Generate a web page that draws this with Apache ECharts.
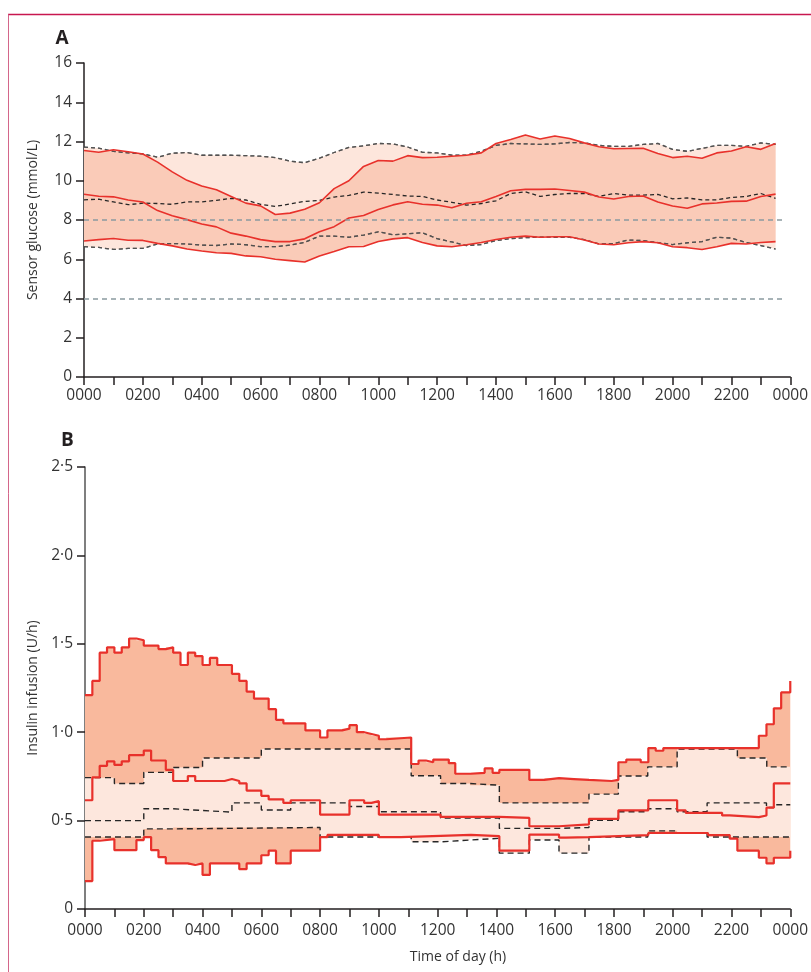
<!DOCTYPE html>
<html>
<head>
<meta charset="utf-8">
<script src="https://cdn.jsdelivr.net/npm/echarts@6/dist/echarts.min.js"></script>
<style>html,body{margin:0;padding:0;background:#fff}#chart{width:811px;height:972px}</style>
</head>
<body>
<div id="chart"></div>
<script>
// ---------- Panel A: sensor glucose (mmol/L), every 30 min ----------
const hoursA = [0,0.5,1,1.5,2,2.5,3,3.5,4,4.5,5,5.5,6,6.5,7,7.5,8,8.5,9,9.5,10,10.5,11,11.5,12,12.5,13,13.5,14,14.5,15,15.5,16,16.5,17,17.5,18,18.5,19,19.5,20,20.5,21,21.5,22,22.5,23,23.5];
// control (black dashed) upper quartile, median, lower quartile
const glucoseCtrlUpper = [11.71,11.66,11.5,11.42,11.37,11.2,11.4,11.44,11.3,11.3,11.3,11.28,11.25,11.18,11.0,10.92,11.15,11.44,11.7,11.78,11.9,11.88,11.72,11.45,11.42,11.3,11.3,11.5,11.8,11.9,11.88,11.85,11.88,11.95,11.93,11.8,11.75,11.75,11.85,11.9,11.6,11.5,11.65,11.8,11.8,11.75,11.93,11.85];
const glucoseCtrlMedian = [9.03,9.06,8.92,8.78,8.86,8.84,8.8,8.92,8.92,9.0,9.1,9.02,8.8,8.69,8.82,8.95,9.0,9.17,9.25,9.42,9.37,9.3,9.22,9.2,9.02,8.9,8.76,8.84,8.98,9.35,9.44,9.2,9.3,9.35,9.35,9.2,9.35,9.27,9.27,9.3,9.08,9.12,9.03,9.03,9.15,9.2,9.35,9.1];
const glucoseCtrlLower = [6.64,6.6,6.5,6.55,6.55,6.78,6.8,6.78,6.72,6.7,6.78,6.74,6.64,6.64,6.72,6.86,7.18,7.18,7.12,7.23,7.4,7.25,7.3,7.35,7.05,6.88,6.7,6.75,6.95,7.05,7.1,7.13,7.12,7.12,7.0,6.78,6.8,6.98,6.95,6.85,6.75,6.84,6.9,7.12,7.08,6.85,6.7,6.52];
// closed loop (red) upper quartile, median, lower quartile
const glucoseLoopUpper = [11.54,11.45,11.58,11.48,11.36,10.95,10.45,10.02,9.73,9.54,9.2,8.86,8.72,8.28,8.35,8.55,8.88,9.6,10.0,10.73,11.03,11.0,11.28,11.18,11.2,11.25,11.3,11.42,11.9,12.1,12.33,12.13,12.28,12.15,11.93,11.73,11.63,11.64,11.65,11.39,11.18,11.25,11.15,11.42,11.52,11.73,11.6,11.9];
const glucoseLoopMedian = [9.31,9.21,9.18,9.02,8.92,8.48,8.22,8.02,7.8,7.65,7.33,7.18,7.0,6.9,6.9,7.04,7.4,7.66,8.1,8.23,8.53,8.77,8.93,8.8,8.76,8.62,8.85,8.93,9.2,9.49,9.56,9.56,9.58,9.5,9.42,9.17,9.07,9.2,9.22,8.92,8.71,8.6,8.82,8.87,8.95,8.96,9.2,9.32];
const glucoseLoopLower = [6.93,7.0,7.06,6.97,6.96,6.81,6.68,6.52,6.42,6.33,6.3,6.17,6.13,6.0,5.93,5.86,6.17,6.39,6.64,6.65,6.9,7.04,7.1,6.85,6.68,6.64,6.74,6.85,7.01,7.12,7.18,7.12,7.15,7.15,6.98,6.78,6.74,6.84,6.9,6.84,6.64,6.59,6.5,6.64,6.81,6.78,6.85,6.9];
const glucoseRefLines = [8, 4];
const glucoseRefEnd = 23.75;

// ---------- Panel B: insulin infusion (U/h), step change points [hour, value] ----------
const insulinLoopUpper = [[0,1.21],[0.25,1.29],[0.5,1.45],[0.75,1.48],[1,1.45],[1.25,1.48],[1.5,1.53],[1.75,1.52],[2,1.49],[2.5,1.47],[2.75,1.48],[3,1.45],[3.25,1.38],[3.5,1.45],[3.75,1.43],[4,1.38],[4.25,1.42],[4.5,1.38],[5,1.33],[5.25,1.29],[5.5,1.23],[5.75,1.19],[6.25,1.13],[6.5,1.07],[6.75,1.05],[7.5,1.01],[8,0.97],[8.25,1.01],[8.75,1.02],[9,1.04],[9.25,1.0],[9.5,0.99],[9.75,0.98],[10,0.96],[10.25,0.97],[11.1,0.82],[11.35,0.84],[11.6,0.83],[11.85,0.845],[12.38,0.825],[12.6,0.765],[13.13,0.77],[13.6,0.795],[13.87,0.77],[14.1,0.787],[15.12,0.73],[15.63,0.74],[16.13,0.735],[16.64,0.73],[17.15,0.724],[17.92,0.73],[18.15,0.83],[18.42,0.845],[18.91,0.83],[19.17,0.91],[19.42,0.895],[19.68,0.91],[22.93,0.98],[23.19,1.045],[23.44,1.135],[23.69,1.225],[24,1.29]];
const insulinLoopMedian = [[0,0.615],[0.25,0.745],[0.5,0.81],[0.75,0.835],[1,0.815],[1.25,0.835],[1.5,0.87],[2,0.896],[2.25,0.84],[2.75,0.787],[3,0.724],[3.5,0.752],[3.75,0.724],[4.75,0.735],[5,0.724],[5.25,0.71],[5.5,0.67],[6,0.64],[6.25,0.62],[6.75,0.6],[7,0.615],[8,0.534],[9,0.615],[9.5,0.6],[9.75,0.61],[10,0.534],[12.1,0.521],[14.1,0.515],[15.12,0.468],[16.13,0.479],[17.15,0.51],[18.15,0.558],[19.17,0.615],[20.15,0.558],[20.44,0.544],[21.68,0.529],[21.94,0.52],[22.93,0.529],[23.19,0.573],[23.44,0.71],[24,0.71]];
const insulinLoopLower = [[0,0.158],[0.25,0.386],[0.5,0.395],[1,0.333],[1.75,0.39],[2,0.407],[2.25,0.333],[2.5,0.293],[2.75,0.258],[3.5,0.249],[3.75,0.258],[4,0.193],[4.25,0.258],[5.25,0.225],[5.5,0.258],[6,0.304],[6.25,0.33],[6.5,0.258],[7,0.33],[8,0.407],[8.25,0.419],[10,0.407],[10.75,0.414],[12.1,0.419],[13.13,0.412],[14.1,0.33],[15.12,0.421],[16.13,0.404],[16.36,0.407],[17.15,0.418],[19.17,0.43],[21.2,0.418],[21.94,0.398],[22.2,0.33],[22.93,0.29],[23.19,0.258],[23.44,0.29],[24,0.33]];
const insulinCtrlUpper = [[0,0.743],[1,0.71],[2,0.773],[3,0.8],[4,0.854],[6,0.905],[11.1,0.754],[12.1,0.71],[13.1,0.7],[14.1,0.6],[17.15,0.65],[18.15,0.752],[19.15,0.804],[20.15,0.905],[22.2,0.854],[23.2,0.804],[24,0.804]];
const insulinCtrlMedian = [[0,0.5],[2,0.567],[3,0.557],[4,0.548],[5,0.6],[6,0.56],[7,0.6],[9,0.58],[10,0.55],[12.1,0.515],[14.1,0.456],[16.13,0.461],[17.15,0.502],[18.15,0.55],[19.15,0.567],[20.15,0.55],[21.17,0.6],[23.19,0.574],[23.44,0.59],[24,0.59]];
const insulinCtrlLower = [[0,0.407],[2,0.453],[3,0.461],[8,0.407],[11.1,0.38],[12.1,0.39],[13.1,0.4],[14.1,0.316],[15.12,0.39],[16.13,0.316],[17.15,0.407],[19.15,0.442],[20.15,0.43],[21.17,0.407],[24,0.407]];

// ---------- tick labels ----------
const xTickLabels = ['0000','0200','0400','0600','0800','1000','1200','1400','1600','1800','2000','2200','0000'];
const yTickLabelsA = ['0','2','4','6','8','10','12','14','16'];
const yTickLabelsB = ['0','0\u00b75','1\u00b70','1\u00b75','2\u00b70','2\u00b75'];

const FONT = '"Open Sans", "Noto Sans", sans-serif';
const RED = '#e8312b';
const DASH = '#262626';
const AXIS = '#231f20';

const zip = (xs, ys) => xs.map((x, i) => [x, ys[i]]);
function stepPath(list) {
  const out = [];
  for (let i = 0; i < list.length - 1; i++) {
    out.push([list[i][0], list[i][1]]);
    out.push([list[i + 1][0], list[i][1]]);
  }
  return out;
}
function band(g, upperPts, lowerPts, color) {
  return {
    type: 'custom', xAxisIndex: g, yAxisIndex: g, silent: true, data: [0],
    renderItem: (params, api) => {
      const pts = upperPts.map(p => api.coord(p)).concat(lowerPts.slice().reverse().map(p => api.coord(p)));
      return { type: 'polygon', shape: { points: pts }, style: { fill: color } };
    }
  };
}
function line(g, data, color, width, dash, step) {
  return {
    type: 'line', xAxisIndex: g, yAxisIndex: g, data: data, symbol: 'none', silent: true,
    step: step || false, smooth: false,
    lineStyle: { color: color, width: width, type: dash ? dash : 'solid' }
  };
}
function xAxisOf(g, margin) {
  return {
    gridIndex: g, type: 'value', min: 0, max: 24, interval: 1,
    axisLine: { show: true, onZero: false, lineStyle: { color: AXIS, width: 1.5 } },
    axisTick: { show: true, length: 8, lineStyle: { color: AXIS, width: 1.5 } },
    axisLabel: { margin: margin, color: '#333', fontFamily: FONT, fontSize: 15.5,
      formatter: v => (Math.round(v) % 2 === 0 ? xTickLabels[Math.round(v) / 2] : '') },
    splitLine: { show: false }
  };
}

const option = {
  animation: false,
  backgroundColor: '#fff',
  grid: [
    { left: 84, right: 19, top: 63, bottom: 595 },
    { left: 85, right: 20, top: 467, bottom: 63 }
  ],
  xAxis: [xAxisOf(0, 11), xAxisOf(1, 14)],
  yAxis: [
    { gridIndex: 0, type: 'value', min: 0, max: 16, interval: 2,
      name: 'Sensor glucose (mmol/L)', nameLocation: 'middle', nameGap: 44,
      nameTextStyle: { color: '#333', fontFamily: FONT, fontSize: 14 },
      axisLine: { show: true, lineStyle: { color: AXIS, width: 1.5 } },
      axisTick: { show: true, length: 8, lineStyle: { color: AXIS, width: 1.5 } },
      axisLabel: { margin: 12, color: '#333', fontFamily: FONT, fontSize: 15.5,
        formatter: v => yTickLabelsA[Math.round(v / 2)] },
      splitLine: { show: false } },
    { gridIndex: 1, type: 'value', min: 0, max: 2.5, interval: 0.5,
      name: 'Insulin infusion (U/h)', nameLocation: 'middle', nameGap: 45,
      nameTextStyle: { color: '#333', fontFamily: FONT, fontSize: 14 },
      axisLine: { show: true, lineStyle: { color: '#555', width: 1.5 } },
      axisTick: { show: true, length: 8, lineStyle: { color: AXIS, width: 1.5 } },
      axisLabel: { margin: 12, color: '#333', fontFamily: FONT, fontSize: 15.5,
        formatter: v => yTickLabelsB[Math.round(v / 0.5)] },
      splitLine: { show: false } }
  ],
  graphic: [
    { type: 'line', shape: { x1: 8, y1: 14.5, x2: 811, y2: 14.5 }, style: { stroke: '#c8174f', lineWidth: 1.5 } },
    { type: 'line', shape: { x1: 8.5, y1: 14.5, x2: 8.5, y2: 972 }, style: { stroke: '#d4668a', lineWidth: 1 } },
    { type: 'text', x: 62, y: 39, style: { text: 'A', font: 'bold 19px ' + FONT, fill: AXIS, textAlign: 'center', textVerticalAlign: 'middle' } },
    { type: 'text', x: 67.5, y: 441, style: { text: 'B', font: 'bold 19px ' + FONT, fill: AXIS, textAlign: 'center', textVerticalAlign: 'middle' } },
    { type: 'text', x: 458, y: 957, style: { text: 'Time of day (h)', font: '14px ' + FONT, fill: '#333', textAlign: 'center', textVerticalAlign: 'middle' } }
  ],
  series: [
    // Panel A
    band(0, zip(hoursA, glucoseCtrlUpper), zip(hoursA, glucoseCtrlLower), '#fde6dc'),
    line(0, zip(hoursA, glucoseCtrlUpper), DASH, 1.3, [4, 3]),
    line(0, zip(hoursA, glucoseCtrlLower), DASH, 1.3, [4, 3]),
    band(0, zip(hoursA, glucoseLoopUpper), zip(hoursA, glucoseLoopLower), '#facbb8'),
    line(0, zip(hoursA, glucoseCtrlUpper), 'rgba(110,110,110,0.6)', 1.3, [4, 3]),
    line(0, zip(hoursA, glucoseCtrlLower), 'rgba(110,110,110,0.6)', 1.3, [4, 3]),
    { type: 'line', xAxisIndex: 0, yAxisIndex: 0, data: [], silent: true,
      markLine: { silent: true, symbol: 'none', label: { show: false },
        lineStyle: { color: '#8a9aa0', width: 1.6, type: [5, 4] },
        data: glucoseRefLines.map(v => [{ coord: [0, v] }, { coord: [glucoseRefEnd, v] }]) } },
    line(0, zip(hoursA, glucoseCtrlMedian), DASH, 1.3, [4, 3]),
    line(0, zip(hoursA, glucoseLoopUpper), RED, 1.6),
    line(0, zip(hoursA, glucoseLoopMedian), RED, 1.6),
    line(0, zip(hoursA, glucoseLoopLower), RED, 1.6),
    // Panel B
    band(1, stepPath(insulinLoopUpper), stepPath(insulinLoopLower), '#f9b99d'),
    band(1, stepPath(insulinCtrlUpper), stepPath(insulinCtrlLower), '#fde7dd'),
    line(1, insulinCtrlUpper, DASH, 1.4, [6, 4], 'end'),
    line(1, insulinCtrlMedian, DASH, 1.4, [6, 4], 'end'),
    line(1, insulinCtrlLower, DASH, 1.4, [6, 4], 'end'),
    line(1, insulinLoopUpper, RED, 2.2, null, 'end'),
    line(1, insulinLoopMedian, RED, 2.2, null, 'end'),
    line(1, insulinLoopLower, RED, 2.2, null, 'end')
  ]
};
const chart = echarts.init(document.getElementById('chart'), null, { renderer: 'canvas' });
chart.setOption(option);
</script>
</body>
</html>
